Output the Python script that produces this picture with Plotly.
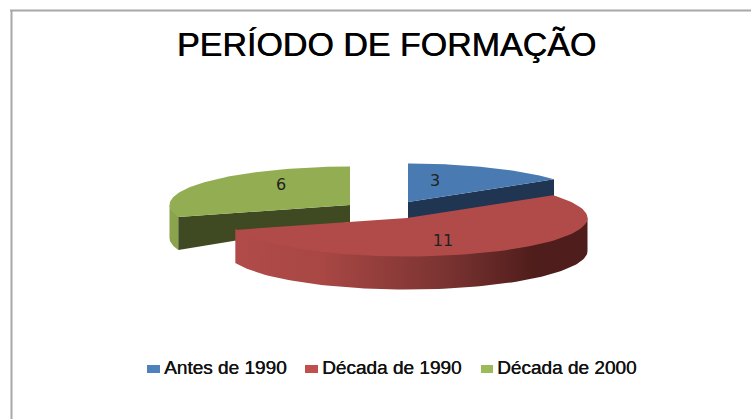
import numpy as np
import plotly.graph_objects as go

title = "PERÍODO DE FORMAÇÃO"
categories = ["Antes de 1990", "Década de 1990", "Década de 2000"]
values = [3, 11, 6]
top_colors = ["#4a7ab2", "#b04b49", "#93ad53"]
legend_colors = ["#4f81bd", "#c0504d", "#9bbb59"]
wall_colors = ["#1f3552", "#4e1c1a", "#3f4a22"]

# slice apex in page pixels (exploded pie), and ellipse radii
apex = [(408, 202), (407, 218), (350, 205)]
RX, RY = 180.5, 38.5
label_pos = [(435, 182), (443, 242), (281, 186)]
legend_swatches = [(147, 160), (305, 318), (481, 493)]
legend_y = 369


def rim(cx, cy, a0, a1, n=90):
    t = np.radians(np.linspace(a0, a1, n))
    return cx + RX * np.sin(t), cy - RY * np.cos(t)


total = sum(values)
angles = np.cumsum([0] + values) / total * 360

fig = go.Figure()
style = dict(mode="lines", hoverinfo="skip", showlegend=False, line=dict(width=0))

# --- walls, back to front ---
# blue inner wall
ax, ay = apex[0]
x, y = rim(ax, ay, angles[1], angles[1], 1)
fig.add_trace(go.Scatter(x=[ax, x[0], x[0], ax, ax], y=[ay, y[0], y[0] + 17, ay + 17, ay],
                         fill="toself", fillcolor=wall_colors[0], **style))
# green wall: outer rim, then inner cut face
ax, ay = apex[2]
x, y = rim(ax, ay, angles[2], 270, 20)
fig.add_trace(go.Scatter(x=np.r_[x, x[::-1]], y=np.r_[y - 1, y[::-1] + 33],
                         fill="toself", fillcolor="#8aa34c", **style))
fig.add_trace(go.Scatter(x=[ax, x[0], x[0], ax, ax], y=[ay, y[0], y[0] + 33, ay + 17, ay],
                         fill="toself", fillcolor=wall_colors[2], **style))
# red outer wall with a horizontal gradient (starts 1px under the top face: no seam)
ax, ay = apex[1]
x, y = rim(ax, ay, 90, angles[2])
fig.add_trace(go.Scatter(x=np.r_[x, x[::-1]], y=np.r_[y - 1, y[::-1] + 33],
                         fill="toself",
                         fillgradient=dict(type="horizontal",
                                           colorscale=[[0, "#b04b49"], [0.25, "#a84744"],
                                                       [0.6, "#7a3331"], [0.85, "#4f1d1b"],
                                                       [1, "#4f1d1b"]]),
                         **style))

# --- top faces ---
for i in [0, 2, 1]:
    ax, ay = apex[i]
    x, y = rim(ax, ay, angles[i], angles[i + 1])
    fig.add_trace(go.Scatter(x=np.r_[ax, x, ax], y=np.r_[ay, y, ay], fill="toself",
                             fillcolor=top_colors[i], **style))

# --- value labels ---
fig.add_trace(go.Scatter(x=[p[0] for p in label_pos], y=[p[1] for p in label_pos],
                         mode="text", text=[str(v) for v in values], showlegend=False,
                         hoverinfo="skip",
                         textfont=dict(family="DejaVu Sans", size=16, color="#222222")))

# --- legend (swatch + text, spaced as in the reference) ---
for name, c, (x0, x1) in zip(categories, legend_colors, legend_swatches):
    fig.add_trace(go.Scatter(x=[x0, x1], y=[legend_y, legend_y], mode="lines", name=name,
                             line=dict(color=c, width=8), showlegend=False, hoverinfo="skip"))
    fig.add_trace(go.Scatter(x=[x1 + 4], y=[legend_y], mode="text", text=[name],
                             textposition="middle right", showlegend=False, hoverinfo="skip",
                             textfont=dict(family="Liberation Sans", size=19, color="#111111",
                                           shadow="0.4px 0 0 #111111")))

fig.update_layout(
    width=751, height=419, autosize=False,
    margin=dict(l=0, r=0, t=0, b=0),
    paper_bgcolor="white", plot_bgcolor="white",
    xaxis=dict(range=[0, 751], visible=False, fixedrange=True),
    yaxis=dict(range=[419, 0], visible=False, fixedrange=True),
    showlegend=False,
    title=dict(text=title, x=386.5 / 751, xanchor="center", y=1 - 44 / 419, yanchor="middle",
               font=dict(family="Liberation Sans", size=34, color="black",
                         shadow="0.6px 0 0 black")),
    shapes=[dict(type="line", xref="x", yref="y", x0=11.5, x1=11.5, y0=10, y1=419,
                 line=dict(color="#a8a8a8", width=2)),
            dict(type="line", xref="x", yref="y", x0=10, x1=751, y0=10.5, y1=10.5,
                 line=dict(color="#a8a8a8", width=2))],
)
fig.write_html("out.html", post_script="document.body.style.margin='0';",
               config={"displayModeBar": False})
